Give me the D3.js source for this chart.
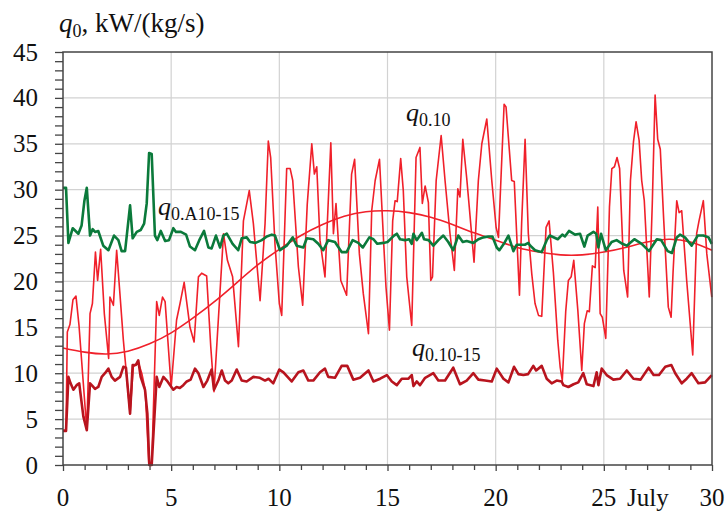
<!DOCTYPE html>
<html>
<head>
<meta charset="utf-8">
<script src="https://cdn.jsdelivr.net/npm/d3@7"></script>
<style>
  html, body { margin: 0; padding: 0; background: #fff; }
  svg { display: block; }
  svg text { font-family: "Liberation Serif", "Times New Roman", serif; }
</style>
</head>
<body>
<svg id="chart" width="725" height="511"></svg>
<script>
// Days of July (x) and specific cooling load q0, kW/(kg/s) (y)
const xTicks = [0, 5, 10, 15, 20, 25, 30];
const yTicks = [0, 5, 10, 15, 20, 25, 30, 35, 40, 45];

// q0.10 — actual load at 10 °C outlet air
const q010 = [
  [0,3.8],[0.14,3.8],[0.2,14.5],[0.32,15.3],[0.46,18.0],[0.6,18.4],[0.74,15.2],[1.1,3.8],
  [1.25,16.5],[1.36,17.6],[1.5,23.2],[1.6,20.1],[1.74,23.5],[1.91,16.5],[2.11,11.6],[2.17,18.3],
  [2.33,17.4],[2.48,23.4],[2.63,18.7],[2.79,13.6],[3.1,5.6],[3.25,10.7],[3.48,11.2],[3.64,10.0],
  [3.8,8.2],[3.97,0],[4.1,0],[4.33,17.8],[4.45,16.3],[4.6,18.3],[4.72,17.8],[5.0,8.5],
  [5.25,15.8],[5.41,17.6],[5.6,19.9],[5.87,15.0],[6.06,13.4],[6.26,20.5],[6.41,20.9],[6.64,20.6],
  [6.83,12.9],[6.98,8.0],[7.42,25.2],[7.6,22.3],[7.84,20.5],[8.11,12.9],[8.34,26.6],[8.61,29.9],
  [8.8,26.3],[9.11,17.9],[9.34,26.3],[9.49,35.3],[9.6,33.5],[9.8,24.0],[10.0,17.6],[10.11,16.3],
  [10.34,32.3],[10.5,32.3],[10.62,31.0],[10.88,21.6],[11.08,17.4],[11.29,28.4],[11.5,35.0],[11.62,31.7],
  [11.73,32.5],[11.88,24.5],[12.11,20.5],[12.38,35.1],[12.5,25.2],[12.62,28.5],[12.84,20.1],[13.11,18.5],
  [13.34,31.7],[13.48,33.3],[13.7,23.0],[13.88,18.7],[14.12,14.3],[14.27,27.7],[14.43,31.0],[14.63,33.3],
  [14.81,24.8],[14.93,19.4],[15.09,14.7],[15.24,26.6],[15.35,28.8],[15.45,28.7],[15.61,33.4],[15.73,29.9],
  [15.89,20.5],[16.12,15.2],[16.32,33.5],[16.5,34.6],[16.61,28.5],[16.74,30.4],[16.89,28.6],[17.0,20.1],
  [17.08,20.5],[17.25,31.0],[17.48,35.9],[17.66,31.0],[17.89,25.2],[18.09,21.2],[18.25,30.1],[18.35,29.2],
  [18.48,35.5],[18.66,31.3],[18.78,28.1],[19.0,22.1],[19.2,31.0],[19.36,35.0],[19.59,37.7],[19.82,31.0],
  [20.02,25.9],[20.13,24.8],[20.39,39.3],[20.48,39.0],[20.74,31.0],[20.86,30.9],[21.1,18.5],[21.2,26.3],
  [21.36,35.5],[21.51,25.2],[21.67,20.8],[21.82,17.6],[21.98,16.3],[22.13,16.2],[22.33,25.9],[22.47,26.6],
  [22.67,20.9],[22.87,13.6],[22.98,10.7],[23.08,9.2],[23.24,16.8],[23.36,20.1],[23.49,20.5],[23.61,22.3],
  [23.8,16.8],[23.98,10.3],[24.1,15.4],[24.23,16.8],[24.33,16.7],[24.47,21.7],[24.6,21.5],[24.72,28.1],
  [24.83,16.5],[24.93,16.1],[25.09,13.8],[25.26,28.1],[25.37,32.3],[25.49,32.5],[25.61,33.5],[25.73,32.3],
  [25.92,21.2],[26.1,18.3],[26.23,31.0],[26.37,35.2],[26.49,37.4],[26.63,35.4],[26.75,31.0],[26.87,28.8],
  [27.1,18.3],[27.24,28.5],[27.37,40.3],[27.49,35.5],[27.61,34.4],[27.77,26.6],[27.98,17.2],[28.11,16.1],
  [28.2,21.0],[28.37,28.8],[28.48,27.5],[28.6,27.7],[28.83,20.1],[29.11,12.0],[29.29,25.2],[29.4,26.6],
  [29.6,28.8],[29.76,23.0],[29.99,18.3]
];

// Smoothed trend of q0.10 over the month
const trendDays   = [0,1,2,3,4,5,6,7,8,9,10,11,12,13,14,15,16,17,18,19,20,21,22,23,24,25,26,27,28,29,30];
const trendValues = [12.75,12.3,12.1,12.4,13.2,14.4,16.0,17.8,19.8,21.8,23.5,25.0,26.2,27.1,27.6,27.7,27.5,27.0,26.2,25.3,24.5,23.7,23.2,22.9,22.9,23.2,23.7,24.3,24.6,24.3,23.4];

// q0.A10-15 — load of the two-stage (10 / 15 °C) system
const q0A1015 = [
  [0,30.2],[0.14,30.2],[0.25,24.2],[0.45,25.8],[0.71,25.2],[0.86,26.1],[0.99,28.8],[1.1,30.2],
  [1.25,25.0],[1.37,25.7],[1.48,25.4],[1.63,25.5],[1.86,23.9],[2.1,23.4],[2.36,25.0],[2.56,24.5],
  [2.71,23.3],[2.87,23.3],[3.1,28.3],[3.22,24.7],[3.41,25.4],[3.59,25.6],[3.75,26.3],[3.87,28.5],
  [3.98,34.0],[4.1,33.9],[4.25,25.0],[4.36,24.5],[4.52,25.5],[4.72,24.4],[4.9,24.5],[5.1,25.8],
  [5.22,25.4],[5.45,25.4],[5.69,25.1],[5.87,23.8],[6.1,23.4],[6.3,24.5],[6.52,25.5],[6.72,23.7],
  [6.87,23.6],[7.07,25.0],[7.26,23.7],[7.41,25.0],[7.57,25.2],[7.84,24.1],[8.1,23.4],[8.26,24.7],
  [8.49,24.8],[8.65,24.3],[8.9,24.2],[9.19,24.5],[9.42,24.9],[9.65,25.1],[9.8,25.0],[10.03,23.4],
  [10.34,23.9],[10.62,24.8],[10.8,23.9],[11.11,23.7],[11.27,24.7],[11.57,24.6],[11.8,24.1],[12.03,23.4],
  [12.26,24.5],[12.57,24.3],[12.88,23.2],[13.11,23.2],[13.39,24.5],[13.65,24.2],[13.86,23.7],[14.16,24.8],
  [14.35,24.6],[14.53,24.1],[14.81,24.2],[15.0,24.3],[15.3,25.0],[15.43,25.2],[15.58,24.6],[15.81,24.5],
  [16.0,24.6],[16.12,24.1],[16.2,25.2],[16.35,24.5],[16.59,25.3],[16.69,24.6],[16.9,24.5],[17.12,23.9],
  [17.35,24.5],[17.58,25.0],[17.81,24.3],[18.04,23.4],[18.27,25.0],[18.48,24.3],[18.66,24.4],[18.97,24.2],
  [19.2,24.6],[19.43,24.8],[19.66,24.9],[19.85,24.9],[20.05,23.7],[20.17,23.4],[20.38,24.1],[20.59,25.0],
  [20.82,23.3],[20.97,24.0],[21.2,24.0],[21.35,24.0],[21.51,24.2],[21.6,23.9],[21.82,23.4],[21.97,23.3],
  [22.13,23.2],[22.36,24.5],[22.5,25.0],[22.87,24.6],[23.08,25.1],[23.2,24.9],[23.39,25.5],[23.67,25.1],
  [23.9,25.2],[24.1,23.8],[24.25,25.0],[24.52,25.4],[24.65,25.2],[24.75,23.7],[24.87,25.2],[25.09,23.4],
  [25.36,24.3],[25.59,24.5],[25.86,24.1],[26.06,23.9],[26.41,24.6],[26.75,24.1],[27.09,23.3],[27.45,24.6],
  [27.65,24.5],[27.95,23.3],[28.15,23.1],[28.37,24.8],[28.52,25.1],[28.75,24.8],[29.06,23.9],[29.34,25.0],
  [29.6,25.0],[29.84,24.8],[29.99,24.1]
];

// q0.10-15 — load of the second stage (from 15 to 10 °C)
const q01015 = [
  [0,3.7],[0.14,3.7],[0.25,9.6],[0.35,8.9],[0.48,8.2],[0.63,8.7],[0.75,8.9],[0.94,5.3],[1.1,3.8],
  [1.25,8.9],[1.37,8.6],[1.48,8.3],[1.63,8.5],[1.79,9.6],[1.94,10.0],[2.1,10.5],[2.25,9.6],[2.4,9.2],
  [2.64,9.6],[2.79,10.7],[2.91,10.6],[3.1,5.6],[3.22,10.9],[3.37,10.9],[3.48,11.4],[3.59,9.6],[3.79,8.2],
  [3.9,5.6],[3.99,0],[4.1,0],[4.33,9.6],[4.45,8.5],[4.64,9.6],[4.8,9.2],[5.1,8.2],[5.25,8.5],[5.4,8.4],
  [5.56,8.7],[5.72,9.1],[5.9,9.3],[6.1,10.5],[6.26,10.0],[6.49,8.5],[6.67,9.2],[6.87,10.4],[6.98,8.2],
  [7.18,9.2],[7.34,10.3],[7.49,9.2],[7.64,8.9],[7.8,9.2],[8.03,10.4],[8.26,9.2],[8.49,9.1],[8.8,9.6],
  [9.1,9.5],[9.34,9.2],[9.5,9.4],[9.72,8.9],[10.0,10.4],[10.19,10.1],[10.57,9.1],[10.88,10.1],[11.11,10.3],
  [11.34,9.2],[11.57,9.2],[11.88,10.1],[12.11,10.5],[12.26,9.6],[12.57,9.5],[12.88,10.8],[13.14,10.8],
  [13.42,9.3],[13.73,9.5],[14.12,10.3],[14.35,9.1],[14.66,9.4],[14.97,9.8],[15.2,9.1],[15.43,8.7],
  [15.66,9.4],[15.97,9.4],[16.12,9.8],[16.2,8.6],[16.35,9.1],[16.5,8.7],[16.74,9.5],[17.12,10.0],
  [17.35,9.2],[17.66,9.2],[18.04,10.6],[18.35,8.8],[18.66,9.2],[18.97,10.0],[19.2,9.3],[19.51,9.2],
  [19.82,9.1],[20.05,10.5],[20.36,9.4],[20.59,9.0],[20.85,10.7],[21.05,9.9],[21.28,9.8],[21.5,9.9],
  [21.74,10.8],[21.87,10.3],[22.13,10.8],[22.36,9.4],[22.59,8.9],[22.82,9.2],[23.05,9.1],[23.13,8.7],
  [23.36,8.5],[23.6,8.8],[23.82,9.0],[24.05,10.0],[24.21,8.8],[24.52,8.6],[24.67,10.1],[24.75,8.7],
  [24.9,10.5],[25.13,9.8],[25.44,9.3],[25.75,9.4],[26.06,10.3],[26.37,9.4],[26.7,9.3],[27.07,10.6],
  [27.3,9.8],[27.55,9.8],[27.84,10.7],[28.12,10.9],[28.3,10.0],[28.6,8.9],[28.83,9.4],[29.06,10.0],
  [29.37,8.9],[29.68,9.0],[29.99,9.8]
];

const FONT = "'Liberation Serif', 'Times New Roman', serif";
const svg = d3.select("#chart");
const plotLeft = 63, plotRight = 712, plotTop = 52, plotBottom = 465;
const x = d3.scaleLinear().domain([0, 30]).range([plotLeft, plotRight]);
const y = d3.scaleLinear().domain([0, 45]).range([plotBottom, plotTop]);

// grid
const grid = svg.append("g");
grid.selectAll("line.gx").data(xTicks.slice(1, -1)).join("line").attr("class", "gx")
  .attr("x1", d => x(d)).attr("x2", d => x(d)).attr("y1", plotTop).attr("y2", plotBottom)
  .attr("stroke", "#d2d2d2").attr("stroke-width", 1.2);
grid.selectAll("line.gy").data(yTicks.slice(1, -1)).join("line").attr("class", "gy")
  .attr("x1", plotLeft).attr("x2", plotRight).attr("y1", d => y(d)).attr("y2", d => y(d))
  .attr("stroke", "#d2d2d2").attr("stroke-width", 1.2);

// axes: minor ticks every unit
const yAxis = d3.axisLeft(y).tickValues(d3.range(0, 46, 1)).tickSize(8).tickFormat("");
const yAx = svg.append("g").attr("transform", `translate(${plotLeft},0)`).call(yAxis);
const xAxis = d3.axisBottom(x).tickValues(d3.range(0, 31, 1)).tickSize(5).tickFormat("");
const xAx = svg.append("g").attr("transform", `translate(0,${plotBottom})`).call(xAxis);
xAx.selectAll(".tick line").attr("y2", d => d % 5 === 0 ? 6 : 5);
[yAx, xAx].forEach(g => {
  g.select(".domain").remove();
  g.selectAll(".tick line").attr("stroke", "#444").attr("stroke-width", 1.3);
});

// tick labels
svg.append("g").selectAll("text").data(yTicks).join("text")
  .attr("x", 38).attr("y", d => y(d)).attr("dy", "0.34em")
  .attr("text-anchor", "end").attr("font-family", FONT).attr("font-size", 25).attr("fill", "#111")
  .text(d => d);
svg.append("g").selectAll("text").data(xTicks).join("text")
  .attr("x", d => x(d)).attr("y", 506)
  .attr("text-anchor", "middle").attr("font-family", FONT).attr("font-size", 25).attr("fill", "#111")
  .text(d => d);
svg.append("text").attr("x", 627).attr("y", 506).attr("font-family", FONT)
  .attr("font-size", 25).attr("fill", "#111").text("July");

// series
const lineLin = d3.line().x(d => x(d[0])).y(d => y(d[1]));
const lineSmooth = d3.line().x(d => x(d[0])).y(d => y(d[1])).curve(d3.curveNatural);
const plot = svg.append("g");
plot.append("path").datum(q010).attr("d", lineLin)
  .attr("fill", "none").attr("stroke", "#f0202a").attr("stroke-width", 1.6).attr("stroke-linejoin", "round");
plot.append("path").datum(trendDays.map((d, i) => [d, trendValues[i]]))
  .attr("d", lineSmooth)
  .attr("fill", "none").attr("stroke", "#f0202a").attr("stroke-width", 1.6);
plot.append("path").datum(q0A1015).attr("d", lineLin)
  .attr("fill", "none").attr("stroke", "#0b7a3b").attr("stroke-width", 2.6).attr("stroke-linejoin", "round");
plot.append("path").datum(q01015).attr("d", lineLin)
  .attr("fill", "none").attr("stroke", "#b8141e").attr("stroke-width", 2.6).attr("stroke-linejoin", "round");

// frame
svg.append("rect").attr("x", plotLeft).attr("y", plotTop)
  .attr("width", plotRight - plotLeft).attr("height", plotBottom - plotTop)
  .attr("fill", "none").attr("stroke", "#444").attr("stroke-width", 1.5);

// labels with subscripts
function qLabel(px, py, sub, size, subSize) {
  const t = svg.append("text").attr("x", px).attr("y", py).attr("font-family", FONT)
    .attr("font-size", size).attr("fill", "#111");
  t.append("tspan").attr("font-style", "italic").text("q");
  t.append("tspan").attr("font-size", subSize).attr("dy", 5).text(sub);
  return t;
}
const title = qLabel(59, 32, "0", 27, 18);
title.append("tspan").attr("dy", -5).text(", kW/(kg/s)");
qLabel(406, 121, "0.10", 26, 18);
qLabel(158, 215, "0.A10-15", 26, 18);
qLabel(412, 356, "0.10-15", 26, 18);
</script>
</body>
</html>
